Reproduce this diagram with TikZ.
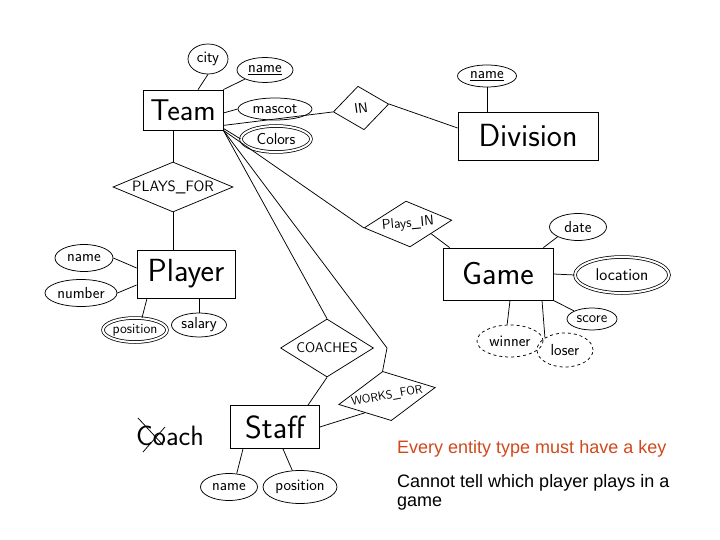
\documentclass[tikz,border=0pt]{standalone}
\usepackage{fontspec}
\newfontfamily\notefont{Liberation Sans}
\usepackage{tikz}
\usetikzlibrary{positioning,shapes.geometric}
\usepackage{xcolor}
\definecolor{keyred}{RGB}{208,72,28}

\begin{document}
\begin{tikzpicture}[
    x=1pt, y=-1pt,
    every node/.style={font=\sffamily\fontsize{16}{17}\selectfont},
    link/.style={line width=0.75pt},
    ent/.style={draw, line width=0.8pt, rectangle, inner sep=0pt, font=\sffamily\fontsize{32}{34}\selectfont},
    rel/.style={draw, line width=0.75pt, diamond, aspect=2.4, inner sep=0pt, font=\sffamily\fontsize{14}{15}\selectfont},
    attr/.style={draw, line width=0.75pt, ellipse, inner sep=0pt},
    multi/.style={attr, double, double distance=2pt},
    derived/.style={attr, dashed},
    note/.style={font=\notefont\fontsize{18}{19}\selectfont, inner sep=0pt}
]
    \useasboundingbox (0,0) rectangle (720,540);

    % Entities
    \node[ent, minimum width=80pt, minimum height=40pt, font=\sffamily\fontsize{30}{32}\selectfont] (team) at (183,110) {Team};
    \node[ent, minimum width=140pt, minimum height=48pt] (division) at (528,136) {Division};
    \node[ent, minimum width=98pt, minimum height=48pt] (player) at (186,274) {Player};
    \node[ent, minimum width=110pt, minimum height=52pt] (game) at (498,274) {Game};
    \node[ent, minimum width=89pt, minimum height=43pt] (staff) at (275,427) {Staff};

    % Relationships
    \node[rel, rotate=8, minimum width=56pt, minimum height=44pt] (in) at (361,108) {IN};
    \node[rel, minimum width=120pt, minimum height=50pt, font=\sffamily\fontsize{15}{16}\selectfont] (playsfor) at (173,187) {PLAYS\_FOR};
    \node[rel, rotate=5, minimum width=88pt, minimum height=46pt] (playsin) at (408,224) {Plays\_IN};
    \node[rel, minimum width=93pt, minimum height=58pt] (coaches) at (327,348) {COACHES};
    \node[rel, rotate=10, minimum width=98pt, minimum height=50pt, font=\sffamily\fontsize{12}{13}\selectfont] (worksfor) at (387,396) {WORKS\_FOR};
    \coordinate (bend) at (387,348);

    % Attributes of Team and Division
    \node[attr, minimum width=40pt, minimum height=30pt] (city) at (208,59) {city};
    \node[attr, minimum width=56pt, minimum height=25pt] (tname) at (265,70) {\underline{name}};
    \node[attr, minimum width=74pt, minimum height=22pt] (mascot) at (275,109) {mascot};
    \node[multi, minimum width=70pt, minimum height=26pt] (colors) at (276,139) {Colors};
    \node[attr, minimum width=59pt, minimum height=22pt] (dname) at (487,76) {\underline{name}};

    % Attributes of Player
    \node[attr, minimum width=58pt, minimum height=27pt] (pname) at (84,258) {name};
    \node[attr, minimum width=72pt, minimum height=27pt] (pnum) at (81,293) {number};
    \node[multi, minimum width=64pt, minimum height=24pt, font=\sffamily\fontsize{14}{15}\selectfont] (ppos) at (135,330) {position};
    \node[attr, minimum width=55pt, minimum height=24pt] (psal) at (199,325) {salary};

    % Attributes of Game
    \node[attr, minimum width=57pt, minimum height=27pt] (date) at (578,227) {date};
    \node[multi, minimum width=94pt, minimum height=36pt, font=\sffamily\fontsize{17}{18}\selectfont] (loc) at (622,275) {location};
    \node[attr, minimum width=50pt, minimum height=22pt, font=\sffamily\fontsize{15}{16}\selectfont] (score) at (592,319) {score};
    \node[derived, minimum width=66pt, minimum height=32pt] (winner) at (510,341) {winner};
    \node[derived, minimum width=56pt, minimum height=34pt] (loser) at (565,350) {loser};

    % Attributes of Staff
    \node[attr, minimum width=57pt, minimum height=27pt] (sname) at (229,487) {name};
    \node[attr, minimum width=74pt, minimum height=33pt] (spos) at (300,487) {position};

    % Crossed out label
    \node[font=\sffamily\fontsize{28}{30}\selectfont] (coach) at (170,436) {Coach};
    \draw[link] (138,418) -- (163,445);
    \draw[link] (143,452) -- (165,427);

    % Notes
    \node[note, text=keyred, anchor=base west] (keynote) at (397,453) {Every entity type must have a key};
    \node[note, anchor=north west, align=left] (gamenote) at (397,474) {Cannot tell which player plays in a\\game};

    % Team links
    \draw[link] (city.south) -- ([xshift=15pt]team.north);
    \draw[link] (tname.south west) -- (team.north east);
    \draw[link] (mascot.west) -- ([yshift=-3pt]team.east);
    \draw[link] (colors.west) -- ([yshift=2pt]team.south east);
    \draw[link] ([yshift=5pt]team.south east) -- (in.west);
    \draw[link] (in.east) -- ([yshift=8pt]division.west);
    \draw[link] (dname.south) -- (dname.south |- division.north);
    \draw[link] (playsfor.north |- team.south) -- (playsfor.north);
    \draw[link] (playsfor.south) -- (playsfor.south |- player.north);
    \draw[link] (team.south east) -- (playsin.west);
    \draw[link] (team.south east) -- (coaches.north);
    \draw[link] (team.south east) -- (bend) -- (worksfor.north);

    % Player links
    \draw[link] (pname.east) -- ([yshift=6pt]player.west);
    \draw[link] (pnum.east) -- ([yshift=-11pt]player.west);
    \draw[link] (ppos.60) -- ([xshift=-39pt]player.south);
    \draw[link] (psal.north) -- (psal.north |- player.south);

    % Game links
    \draw[link] (playsin.south east) -- ([xshift=7pt]game.north west);
    \draw[link] (date.south west) -- ([xshift=-10pt]game.north east);
    \draw[link] (loc.west) -- (game.east);
    \draw[link] (score.north west) -- (game.south east);
    \draw[link] (winner.100) -- ([xshift=12pt]game.south);
    \draw[link] (loser.north west) -- ([xshift=44pt]game.south);

    % Staff links
    \draw[link] ([xshift=33pt]staff.north) -- (coaches.south);
    \draw[link] (staff.east) -- (worksfor.south west);
    \draw[link] (sname.60) -- ([xshift=-32pt]staff.south);
    \draw[link] (spos.115) -- ([xshift=8pt]staff.south);
\end{tikzpicture}
\end{document}
